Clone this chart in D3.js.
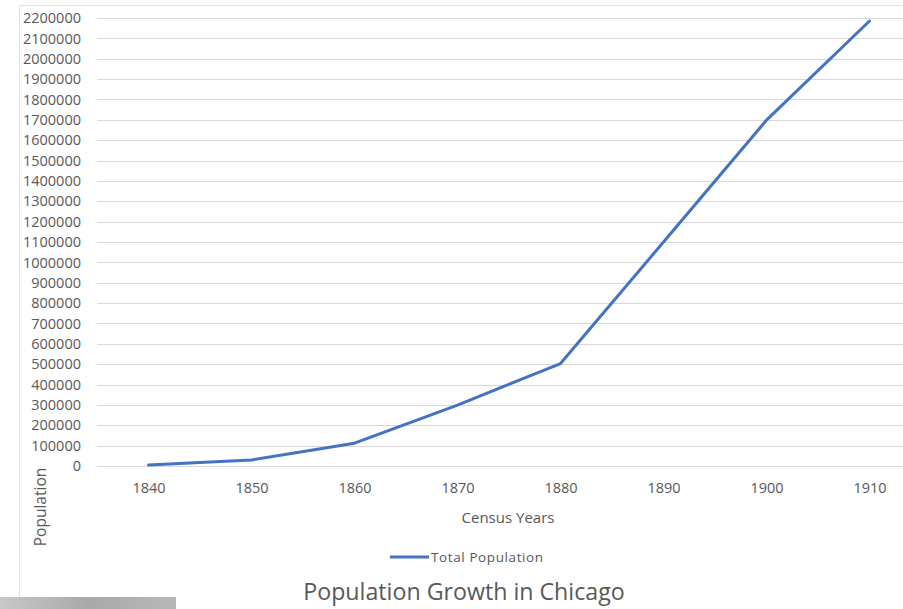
<!DOCTYPE html>
<html>
<head>
<meta charset="utf-8">
<script src="https://cdn.jsdelivr.net/npm/d3@7"></script>
<style>
  html, body { margin: 0; padding: 0; background: #fff; }
  svg { display: block; }
  text { font-family: "Open Sans", "Noto Sans", sans-serif; fill: #595959; }
</style>
</head>
<body>
<div id="chart"></div>
<script>
// Census data, Chicago
const years = ['1840', '1850', '1860', '1870', '1880', '1890', '1900', '1910'];
const population = [4470, 29963, 112172, 298977, 503185, 1099850, 1698575, 2185283];
const yTicks = d3.range(0, 2200001, 100000);

const W = 903, H = 609;
const svg = d3.select('#chart').append('svg')
    .attr('width', W)
    .attr('height', H);

// Chart frame (only left and top edges visible)
svg.append('path')
    .attr('d', `M19.5,${H} V5.5 H${W}`)
    .attr('fill', 'none')
    .attr('stroke', '#e3e3e3')
    .attr('stroke-width', 1);

const x = d3.scalePoint()
    .domain(years)
    .range([97, 921])
    .padding(0.5);

const y = d3.scaleLinear()
    .domain([0, 2200000])
    .range([466, 18]);

// Horizontal grid lines
svg.append('g')
    .attr('class', 'grid')
    .selectAll('line')
    .data(yTicks)
    .enter()
    .append('line')
    .attr('x1', 97)
    .attr('x2', W)
    .attr('y1', d => Math.round(y(d)) + 0.5)
    .attr('y2', d => Math.round(y(d)) + 0.5)
    .attr('stroke', '#d9d9d9')
    .attr('stroke-width', 1);

// Y axis labels
const yAxis = svg.append('g')
    .attr('transform', 'translate(81,0)')
    .call(d3.axisLeft(y).tickValues(yTicks).tickSize(0).tickPadding(0).tickFormat(d3.format('d')));
yAxis.select('.domain').remove();
yAxis.selectAll('text')
    .attr('fill', '#595959')
    .style('font-size', '14.5px');

// X axis labels
const xAxis = svg.append('g')
    .attr('transform', 'translate(0,483)')
    .call(d3.axisBottom(x).tickSize(0).tickPadding(0));
xAxis.select('.domain').remove();
xAxis.selectAll('text')
    .attr('fill', '#595959')
    .style('font-size', '14.5px');

// Data line
const line = d3.line()
    .x((d, i) => x(years[i]))
    .y(d => y(d));

svg.append('path')
    .datum(population)
    .attr('d', line)
    .attr('fill', 'none')
    .attr('stroke', '#4472c4')
    .attr('stroke-width', 3)
    .attr('stroke-linejoin', 'round')
    .attr('stroke-linecap', 'round');

// Axis titles
svg.append('text')
    .attr('x', 508)
    .attr('y', 523)
    .attr('text-anchor', 'middle')
    .style('font-size', '15px')
    .text('Census Years');

svg.append('text')
    .attr('transform', 'translate(46,507) rotate(-90)')
    .attr('text-anchor', 'middle')
    .style('font-size', '15.5px')
    .text('Population');

// Legend
svg.append('line')
    .attr('x1', 390).attr('x2', 429)
    .attr('y1', 557).attr('y2', 557)
    .attr('stroke', '#4472c4')
    .attr('stroke-width', 3);
svg.append('text')
    .attr('x', 431)
    .attr('y', 562)
    .style('font-size', '13.5px')
    .style('letter-spacing', '0.6px')
    .text('Total Population');

// Title
svg.append('text')
    .attr('x', 464)
    .attr('y', 600)
    .attr('text-anchor', 'middle')
    .style('font-size', '23.2px')
    .text('Population Growth in Chicago');

// Grey strip at bottom-left corner
const grad = svg.append('defs').append('linearGradient')
    .attr('id', 'strip');
grad.append('stop').attr('offset', '0%').attr('stop-color', '#c8c8c8');
grad.append('stop').attr('offset', '50%').attr('stop-color', '#a9a9a9');
grad.append('stop').attr('offset', '100%').attr('stop-color', '#b8b8b8');
svg.append('rect')
    .attr('x', 0).attr('y', 597)
    .attr('width', 176).attr('height', H - 597)
    .attr('fill', 'url(#strip)');
</script>
</body>
</html>
